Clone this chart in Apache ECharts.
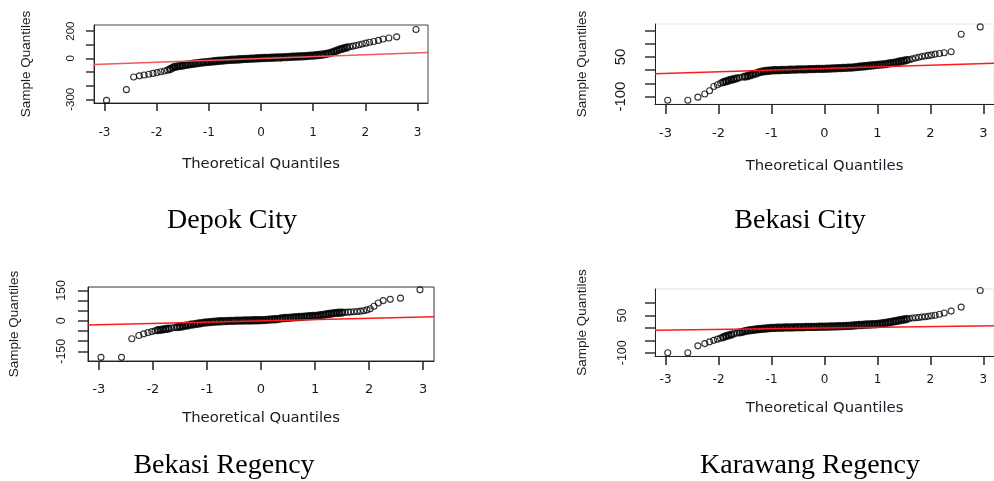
<!DOCTYPE html>
<html>
<head>
<meta charset="utf-8">
<script src="https://cdn.jsdelivr.net/npm/echarts@6/dist/echarts.min.js"></script>
<style>
html,body{margin:0;padding:0;background:#fff;}
#chart{width:994px;height:481px;}
</style>
</head>
<body>
<div id="chart"></div>
<script>
// ---- data: [theoretical quantile, sample quantile] ----
const panelTitles = ["Depok City", "Bekasi City", "Bekasi Regency", "Karawang Regency"];
const xTicks = [-3, -2, -1, 0, 1, 2, 3];

const depokPoints = [
  [-2.96,-308],[-2.58,-229],[-2.44,-136],[-2.33,-128],[-2.24,-122],[-2.15,-116],[-2.07,-110],[-1.99,-104],
  [-1.92,-98],[-1.85,-92],[-1.79,-86],[-1.74,-78],[-1.69,-68],
  [-1.65,-62],[-1.6,-58],[-1.55,-55],[-1.5,-52],[-1.45,-48],[-1.4,-45],[-1.35,-42],[-1.3,-39],[-1.25,-36],
  [-1.2,-34],[-1.15,-31],[-1.1,-29],[-1.05,-27],[-1.0,-25],[-0.95,-23],[-0.9,-21],[-0.85,-19],[-0.8,-17],
  [-0.75,-16],[-0.7,-14],[-0.65,-13],[-0.6,-11],[-0.55,-10],[-0.5,-9],[-0.45,-8],[-0.4,-6],[-0.35,-5],
  [-0.3,-4],[-0.25,-3],[-0.2,-2],[-0.15,-1],[-0.1,0],[-0.05,1],[0,2],[0.05,3],[0.1,4],[0.15,4],[0.2,5],
  [0.25,6],[0.3,7],[0.35,7],[0.4,8],[0.45,9],[0.5,10],[0.55,11],[0.6,12],[0.65,13],[0.7,14],[0.75,15],
  [0.8,16],[0.85,17],[0.9,18],[0.95,20],[1.0,21],[1.05,23],[1.1,25],[1.15,27],[1.2,30],[1.25,33],[1.3,37],
  [1.35,42],[1.4,50],[1.45,57],[1.5,64],[1.55,70],[1.6,76],[1.65,81],[1.7,86],
  [1.76,90],[1.82,95],[1.88,100],[1.94,106],[2.01,112],[2.08,118],[2.16,124],[2.25,132],[2.34,142],
  [2.45,150],[2.6,158],[2.97,212]
];
const depokLine = [[-3.2,-44],[3.2,44]];

const bekasiCityPoints = [
  [-2.96,-114],[-2.58,-114],[-2.39,-102],[-2.26,-90],[-2.17,-78],[-2.09,-62],[-2.02,-55],[-1.96,-49],
  [-1.91,-45],[-1.86,-42],[-1.81,-39],[-1.76,-36],[-1.71,-34],[-1.66,-31],[-1.61,-29],
  [-1.55,-26],[-1.5,-24],[-1.45,-22],[-1.4,-19],[-1.35,-16],[-1.3,-13],[-1.25,-9],[-1.2,-6],[-1.15,-4],
  [-1.1,-3],[-1.05,-2],[-1.0,-1],[-0.95,0],[-0.9,0],[-0.85,0],[-0.8,1],[-0.75,1],[-0.7,1],[-0.65,2],
  [-0.6,2],[-0.55,2],[-0.5,3],[-0.45,3],[-0.4,3],[-0.35,3],[-0.3,4],[-0.25,4],[-0.2,4],[-0.15,5],
  [-0.1,5],[-0.05,5],[0,5],[0.05,6],[0.1,6],[0.15,7],[0.2,7],[0.25,8],[0.3,8],[0.35,9],[0.4,9],
  [0.45,10],[0.5,10],[0.55,11],[0.6,12],[0.65,13],[0.7,14],[0.75,15],[0.8,16],[0.85,17],[0.9,18],
  [0.95,19],[1.0,20],[1.05,21],[1.1,22],[1.15,23],[1.2,25],[1.25,27],[1.3,28],[1.35,30],[1.4,32],
  [1.45,34],[1.5,36],[1.55,38],[1.6,40],
  [1.66,43],[1.72,46],[1.78,49],[1.84,52],[1.90,54],[1.96,56],[2.02,58],[2.09,61],[2.17,63],[2.26,66],
  [2.39,70],[2.58,136],[2.94,164]
];
const bekasiCityLine = [[-3.2,-13],[3.2,26]];

const bekasiRegencyPoints = [
  [-2.96,-180],[-2.58,-180],[-2.39,-88],[-2.26,-72],[-2.17,-64],[-2.09,-58],[-2.02,-53],[-1.96,-49],
  [-1.91,-46],[-1.86,-44],[-1.81,-42],[-1.76,-40],[-1.71,-38],[-1.66,-36],
  [-1.6,-33],[-1.55,-31],[-1.5,-29],[-1.45,-27],[-1.4,-24],[-1.35,-22],[-1.3,-19],[-1.25,-17],[-1.2,-15],
  [-1.15,-13],[-1.1,-11],[-1.05,-9],[-1.0,-7],[-0.95,-6],[-0.9,-5],[-0.85,-4],[-0.8,-3],[-0.75,-2],
  [-0.7,-1],[-0.65,-1],[-0.6,0],[-0.55,0],[-0.5,0],[-0.45,1],[-0.4,1],[-0.35,1],[-0.3,2],[-0.25,2],
  [-0.2,2],[-0.15,3],[-0.1,3],[-0.05,3],[0,4],[0.05,4],[0.1,5],[0.15,6],[0.2,7],[0.25,8],[0.3,9],
  [0.35,11],[0.4,13],[0.45,14],[0.5,15],[0.55,16],[0.6,17],[0.65,18],[0.7,19],[0.75,20],[0.8,21],
  [0.85,22],[0.9,23],[0.95,24],[1.0,25],[1.05,26],[1.1,28],[1.15,30],[1.2,32],[1.25,34],[1.3,36],
  [1.35,38],[1.4,39],[1.45,40],[1.5,41],[1.55,42],
  [1.61,43],[1.66,44],[1.72,45],[1.78,46],[1.84,48],[1.90,50],[1.96,54],[2.02,60],[2.09,72],[2.17,88],
  [2.26,100],[2.39,106],[2.58,112],[2.94,153]
];
const bekasiRegencyLine = [[-3.2,-20],[3.2,20]];

const karawangPoints = [
  [-2.96,-100],[-2.58,-100],[-2.39,-72],[-2.26,-63],[-2.17,-56],[-2.09,-50],[-2.02,-45],[-1.96,-41],
  [-1.91,-37],[-1.86,-33],[-1.81,-30],[-1.76,-27],[-1.71,-24],
  [-1.65,-20],[-1.6,-18],[-1.55,-16],[-1.5,-13],[-1.45,-11],[-1.4,-9],[-1.35,-8],[-1.3,-6],[-1.25,-5],
  [-1.2,-4],[-1.15,-3],[-1.1,-2],[-1.05,-1],[-1.0,0],[-0.95,0],[-0.9,1],[-0.85,1],[-0.8,1],[-0.75,2],
  [-0.7,2],[-0.65,2],[-0.6,2],[-0.55,3],[-0.5,3],[-0.45,3],[-0.4,3],[-0.35,4],[-0.3,4],[-0.25,4],
  [-0.2,4],[-0.15,4],[-0.1,5],[-0.05,5],[0,5],[0.05,5],[0.1,6],[0.15,6],[0.2,6],[0.25,7],[0.3,7],
  [0.35,7],[0.4,8],[0.45,8],[0.5,9],[0.55,10],[0.6,11],[0.65,12],[0.7,12],[0.75,13],[0.8,14],[0.85,14],
  [0.9,15],[0.95,15],[1.0,16],[1.05,17],[1.1,19],[1.15,20],[1.2,22],[1.25,24],[1.3,26],[1.35,28],
  [1.4,30],[1.45,32],[1.5,34],[1.55,36],[1.6,38],
  [1.66,40],[1.72,41],[1.78,42],[1.84,44],[1.90,45],[1.96,47],[2.02,49],[2.09,51],[2.17,55],[2.26,60],
  [2.39,68],[2.58,84],[2.94,151]
];
const karawangLine = [[-3.2,-9],[3.2,9]];

const yTicks1 = [-300,-200,-100,0,100,200];      const yLabels1 = [-300,0,200];
const yTicks2 = [-100,-50,0,50,100,150];         const yLabels2 = [-100,50];
const yTicks3 = [-150,-100,-50,0,50,100,150];    const yLabels3 = [-150,0,150];
const yTicks4 = [-100,-50,0,50,100];             const yLabels4 = [-100,50];

// ---- layout ----
const panels = [
  {grid:{left:94,top:25,width:334,height:78}, box:'#444', ymin:-327, ymax:245, yTicks:yTicks1, yLabels:yLabels1,
   pts:depokPoints, line:depokLine, lineColor:'#f05a5a',
   xTick:8, yTick:8, xLab:12, yLab:11.5, xMargin:24, yMargin:17, xGap:54, yGap:61},
  {grid:{left:655,top:24,width:348,height:80}, box:'#e4e4e4', ymin:-128, ymax:175, yTicks:yTicks2, yLabels:yLabels2,
   pts:bekasiCityPoints, line:bekasiCityLine, lineColor:'#ff1a1a',
   xTick:10, yTick:10, xLab:13, yLab:15, xMargin:23, yMargin:27, xGap:55, yGap:66},
  {grid:{left:88,top:287,width:346,height:74}, box:'#333', ymin:-198, ymax:167, yTicks:yTicks3, yLabels:yLabels3,
   pts:bekasiRegencyPoints, line:bekasiRegencyLine, lineColor:'#ff1a1a',
   xTick:9, yTick:10, xLab:13, yLab:12.5, xMargin:22, yMargin:20, xGap:50, yGap:67},
  {grid:{left:655,top:289,width:347,height:67}, box:'#e4e4e4', ymin:-113, ymax:157, yTicks:yTicks4, yLabels:yLabels4,
   pts:karawangPoints, line:karawangLine, lineColor:'#ff1a1a',
   xTick:9, yTick:10, xLab:12, yLab:12.5, xMargin:18, yMargin:26, xGap:45, yGap:66}
];

// points packed closely together (the dense middle band) get a heavier outline
function styledPoints(pts) {
  return pts.map((pt, k) => {
    const prev = k > 0 ? pt[0] - pts[k - 1][0] : 1;
    const next = k < pts.length - 1 ? pts[k + 1][0] - pt[0] : 1;
    const dense = prev < 0.055 && next < 0.055;
    return {value: pt, itemStyle: dense ? {borderWidth: 2.3} : {borderWidth: 1.1}};
  });
}

const grids = [], xAxes = [], yAxes = [], series = [];
panels.forEach((p, i) => {
  grids.push(Object.assign({show:true, borderColor:p.box, borderWidth:1, backgroundColor:'transparent'}, p.grid));
  xAxes.push({
    type:'value', gridIndex:i, min:-3.2, max:3.2,
    name:'Theoretical Quantiles', nameLocation:'middle', nameGap:p.xGap,
    nameTextStyle:{fontFamily:'DejaVu Sans', fontSize:14.8, color:'#1a1a24'},
    axisLine:{show:true, onZero:false, lineStyle:{color:'#222', width:1}},
    axisTick:{show:true, length:p.xTick, customValues:xTicks, lineStyle:{color:'#222', width:1.5}},
    axisLabel:{show:true, customValues:xTicks, margin:p.xMargin, fontFamily:'DejaVu Sans', fontSize:p.xLab, color:'#1a1a1a'},
    splitLine:{show:false}
  });
  yAxes.push({
    type:'value', gridIndex:i, min:p.ymin, max:p.ymax,
    name:'Sample Quantiles', nameLocation:'middle', nameGap:p.yGap,
    nameTextStyle:{fontFamily:'Liberation Sans', fontSize:13.5, color:'#1a1a24'},
    axisLine:{show:true, onZero:false, lineStyle:{color:'#222', width:1}},
    axisTick:{show:true, length:p.yTick, customValues:p.yTicks, lineStyle:{color:'#333', width:1.5}},
    axisLabel:{show:true, customValues:p.yLabels, rotate:90, margin:p.yMargin, fontFamily:'Liberation Sans', fontSize:p.yLab, color:'#1a1a1a'},
    splitLine:{show:false}
  });
  series.push({
    type:'scatter', xAxisIndex:i, yAxisIndex:i, data:styledPoints(p.pts),
    symbol:'circle', symbolSize:6,
    itemStyle:{color:'rgba(255,255,255,0)', borderColor:'#000', borderWidth:1.1},
    emphasis:{disabled:true}, z:2
  });
  series.push({
    type:'line', xAxisIndex:i, yAxisIndex:i, data:p.line, symbol:'none',
    lineStyle:{color:p.lineColor, width:1.5}, z:3, silent:true
  });
});

const captionPos = [[232,221],[800,221],[224,466],[810,466]];
const graphic = panelTitles.map((t, i) => ({
  type:'text', x:captionPos[i][0], y:captionPos[i][1], silent:true,
  style:{text:t, fontFamily:'Liberation Serif', fontSize:28, fill:'#000', align:'center', verticalAlign:'middle'}
}));

const chart = echarts.init(document.getElementById('chart'), null, {renderer:'canvas'});
chart.setOption({
  animation:false,
  backgroundColor:'#fff',
  grid:grids, xAxis:xAxes, yAxis:yAxes, series:series, graphic:graphic
});
</script>
</body>
</html>
